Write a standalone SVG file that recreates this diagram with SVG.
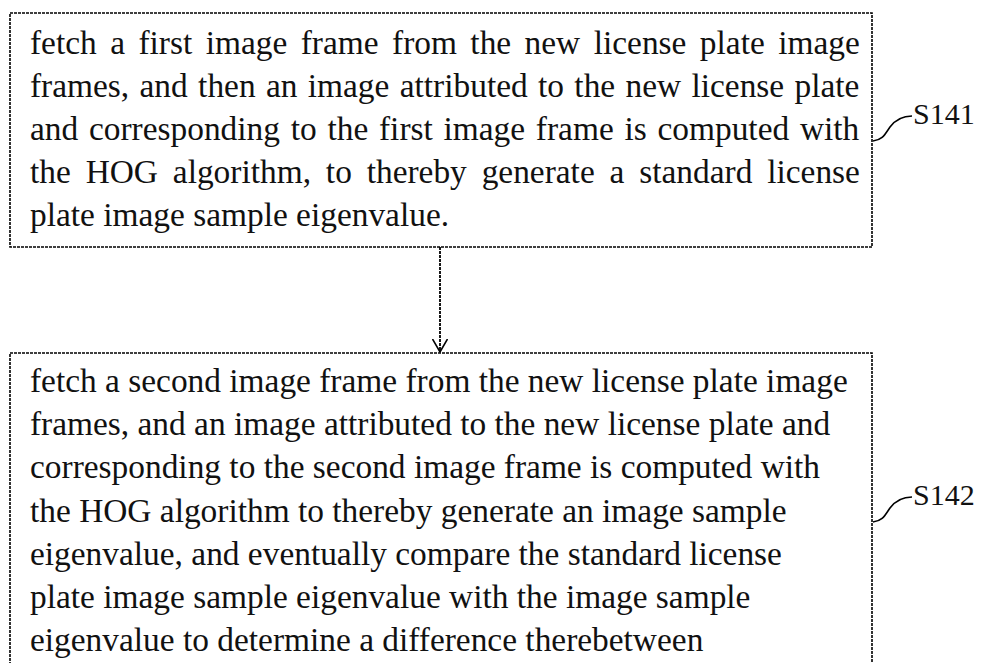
<svg xmlns="http://www.w3.org/2000/svg" width="983" height="663" viewBox="0 0 983 663">
<defs>
<style>
.box{fill:none;stroke:#000;stroke-width:1.6;stroke-dasharray:3 1}
.t{font-family:"Liberation Serif","Times New Roman",serif;font-size:33.4px;fill:#111}
.lbl{font-family:"Liberation Serif","Times New Roman",serif;font-size:30px;fill:#111}
.lead{fill:none;stroke:#000;stroke-width:1.6}
.conn{fill:none;stroke:#000;stroke-width:1.8;stroke-dasharray:3 1}
</style>
<marker id="arr" viewBox="0 0 14 16" refX="13" refY="8" markerWidth="14" markerHeight="16" markerUnits="userSpaceOnUse" orient="auto">
<path d="M0,0.5 L13,8 L0,15.5" fill="none" stroke="#000" stroke-width="1.6"/>
</marker>
</defs>
<rect width="983" height="663" fill="#fff"/>
<g id="S141">
<rect class="box" x="10" y="13" width="862" height="234"/>
<text class="t" x="30" y="54" word-spacing="5.1">fetch a first image frame from the new license plate image</text>
<text class="t" x="30" y="97" word-spacing="2">frames, and then an image attributed to the new license plate</text>
<text class="t" x="30" y="140" word-spacing="2.4">and corresponding to the first image frame is computed with</text>
<text class="t" x="30" y="183" word-spacing="6.5">the HOG algorithm, to thereby generate a standard license</text>
<text class="t" x="30" y="226">plate image sample eigenvalue.</text>
<path class="lead" d="M873,141 C883,140 885,134 890,127 C896,119 904,116 912,116"/>
<text class="lbl" x="913" y="124">S141</text>
</g>
<g id="S142">
<rect class="box" x="10" y="353" width="862" height="330"/>
<text class="t" x="30" y="392">fetch a second image frame from the new license plate image</text>
<text class="t" x="30" y="435">frames, and an image attributed to the new license plate and</text>
<text class="t" x="30" y="478">corresponding to the second image frame is computed with</text>
<text class="t" x="30" y="522">the HOG algorithm to thereby generate an image sample</text>
<text class="t" x="30" y="565">eigenvalue, and eventually compare the standard license</text>
<text class="t" x="30" y="608">plate image sample eigenvalue with the image sample</text>
<text class="t" x="30" y="651">eigenvalue to determine a difference therebetween</text>
<path class="lead" d="M873,522 C883,521 885,515 890,508 C896,500 904,497 912,497"/>
<text class="lbl" x="913" y="505">S142</text>
</g>
<g id="connectors">
<line class="conn" x1="440" y1="247" x2="440" y2="352" marker-end="url(#arr)"/>
</g>
</svg>
